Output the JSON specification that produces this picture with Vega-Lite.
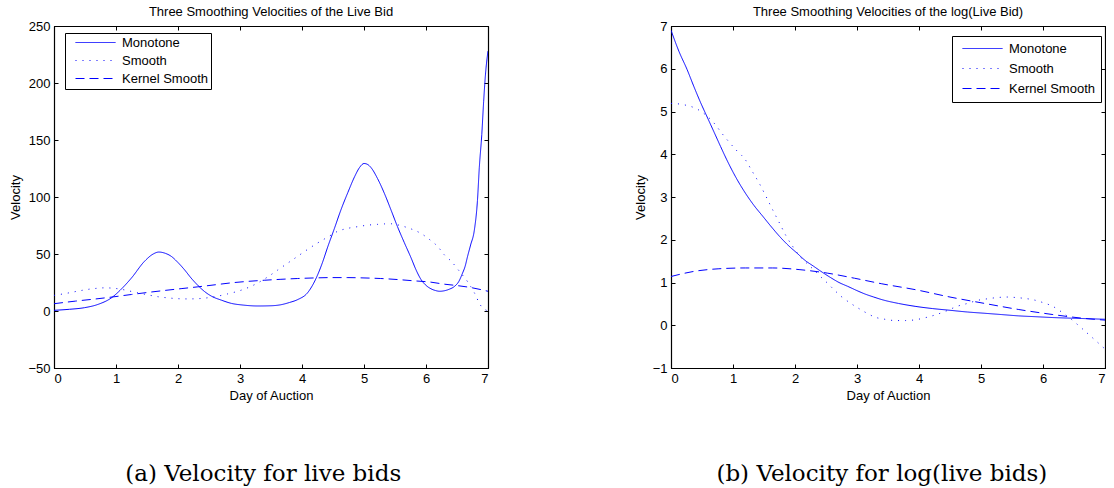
{
  "$schema": "https://vega.github.io/schema/vega-lite/v6.json",
  "background": "white",
  "padding": {"left": 9, "top": 5, "right": 0, "bottom": 0},
  "spacing": 144,
  "resolve": {"scale": {"strokeDash": "independent"}, "legend": {"strokeDash": "independent"}},
  "config": {
    "font": "Liberation Sans",
    "view": {"stroke": "black", "strokeWidth": 1},
    "axis": {
      "labelFont": "Liberation Sans", "labelFontSize": 13, "labelColor": "black",
      "titleFont": "Liberation Sans", "titleFontSize": 13, "titleFontWeight": "normal", "titleColor": "black",
      "domainColor": "black", "domainWidth": 1.2, "tickColor": "black", "tickSize": -4, "labelPadding": 8, "grid": false
    },
    "title": {"font": "Liberation Sans", "fontSize": 13, "fontWeight": "normal", "color": "black", "offset": 1},
    "legend": {"labelFont": "Liberation Sans", "labelFontSize": 13, "labelColor": "black"}
  },
  "hconcat": [
    {
      "title": {"text": "(a) Velocity for live bids", "orient": "bottom", "anchor": "middle", "font": "DejaVu Serif", "fontSize": 23, "fontWeight": "normal", "color": "black", "offset": 60, "dx": 14},
      "vconcat": [
        {
          "title": {"text": "Three Smoothing Velocities of the Live Bid", "anchor": "middle"},
          "width": 434, "height": 342,
          "data": {"values": [
            {"s":"Monotone","day":0,"v":0.6},{"s":"Monotone","day":0.25,"v":1.5},{"s":"Monotone","day":0.49,"v":2.9},{"s":"Monotone","day":0.71,"v":5.8},{"s":"Monotone","day":0.92,"v":11.3},{"s":"Monotone","day":1.1,"v":20},{"s":"Monotone","day":1.25,"v":29},{"s":"Monotone","day":1.46,"v":43.6},{"s":"Monotone","day":1.6,"v":50},{"s":"Monotone","day":1.69,"v":51.7},{"s":"Monotone","day":1.8,"v":50.5},{"s":"Monotone","day":1.89,"v":48},{"s":"Monotone","day":2.0,"v":42.5},{"s":"Monotone","day":2.1,"v":36.5},{"s":"Monotone","day":2.21,"v":29},{"s":"Monotone","day":2.32,"v":22.5},{"s":"Monotone","day":2.43,"v":17},{"s":"Monotone","day":2.54,"v":13},{"s":"Monotone","day":2.7,"v":9.5},{"s":"Monotone","day":2.86,"v":6.7},{"s":"Monotone","day":3.05,"v":5.2},{"s":"Monotone","day":3.29,"v":4.4},{"s":"Monotone","day":3.5,"v":4.6},{"s":"Monotone","day":3.66,"v":5.5},{"s":"Monotone","day":3.8,"v":7.5},{"s":"Monotone","day":3.93,"v":10},{"s":"Monotone","day":4.09,"v":16},{"s":"Monotone","day":4.23,"v":29},{"s":"Monotone","day":4.32,"v":41},{"s":"Monotone","day":4.42,"v":57},{"s":"Monotone","day":4.52,"v":72},{"s":"Monotone","day":4.63,"v":89},{"s":"Monotone","day":4.74,"v":104},{"s":"Monotone","day":4.85,"v":118},{"s":"Monotone","day":4.93,"v":126},{"s":"Monotone","day":5.0,"v":129.4},{"s":"Monotone","day":5.06,"v":128.5},{"s":"Monotone","day":5.11,"v":126},{"s":"Monotone","day":5.22,"v":116},{"s":"Monotone","day":5.33,"v":103},{"s":"Monotone","day":5.44,"v":88},{"s":"Monotone","day":5.54,"v":74},{"s":"Monotone","day":5.65,"v":60},{"s":"Monotone","day":5.76,"v":46.5},{"s":"Monotone","day":5.84,"v":36},{"s":"Monotone","day":5.92,"v":27.6},{"s":"Monotone","day":6.0,"v":22.5},{"s":"Monotone","day":6.08,"v":19.5},{"s":"Monotone","day":6.15,"v":18},{"s":"Monotone","day":6.22,"v":17.3},{"s":"Monotone","day":6.3,"v":17.8},{"s":"Monotone","day":6.38,"v":19.2},{"s":"Monotone","day":6.46,"v":21.6},{"s":"Monotone","day":6.53,"v":26},{"s":"Monotone","day":6.59,"v":33.3},{"s":"Monotone","day":6.63,"v":39},{"s":"Monotone","day":6.67,"v":47.8},{"s":"Monotone","day":6.72,"v":58},{"s":"Monotone","day":6.78,"v":71},{"s":"Monotone","day":6.83,"v":97},{"s":"Monotone","day":6.86,"v":126},{"s":"Monotone","day":6.9,"v":155},{"s":"Monotone","day":6.93,"v":184},{"s":"Monotone","day":6.96,"v":208},{"s":"Monotone","day":7.0,"v":228},
            {"s":"Smooth","day":0,"v":13.7},{"s":"Smooth","day":0.2,"v":15.5},{"s":"Smooth","day":0.44,"v":18},{"s":"Smooth","day":0.62,"v":19.5},{"s":"Smooth","day":0.82,"v":20.3},{"s":"Smooth","day":0.95,"v":20},{"s":"Smooth","day":1.09,"v":19},{"s":"Smooth","day":1.22,"v":17.5},{"s":"Smooth","day":1.35,"v":16},{"s":"Smooth","day":1.5,"v":14.3},{"s":"Smooth","day":1.68,"v":12.5},{"s":"Smooth","day":1.84,"v":11.5},{"s":"Smooth","day":2.0,"v":10.8},{"s":"Smooth","day":2.16,"v":10.6},{"s":"Smooth","day":2.32,"v":10.8},{"s":"Smooth","day":2.48,"v":11.6},{"s":"Smooth","day":2.64,"v":13},{"s":"Smooth","day":2.8,"v":15},{"s":"Smooth","day":2.97,"v":17.4},{"s":"Smooth","day":3.13,"v":20.5},{"s":"Smooth","day":3.29,"v":24.7},{"s":"Smooth","day":3.45,"v":30},{"s":"Smooth","day":3.61,"v":36},{"s":"Smooth","day":3.77,"v":42},{"s":"Smooth","day":3.93,"v":48},{"s":"Smooth","day":4.09,"v":54},{"s":"Smooth","day":4.25,"v":59.6},{"s":"Smooth","day":4.42,"v":65},{"s":"Smooth","day":4.58,"v":70},{"s":"Smooth","day":4.74,"v":72.5},{"s":"Smooth","day":4.9,"v":74},{"s":"Smooth","day":5.06,"v":75.3},{"s":"Smooth","day":5.22,"v":76},{"s":"Smooth","day":5.33,"v":76.4},{"s":"Smooth","day":5.44,"v":76.5},{"s":"Smooth","day":5.55,"v":75.5},{"s":"Smooth","day":5.65,"v":74},{"s":"Smooth","day":5.76,"v":72},{"s":"Smooth","day":5.92,"v":68},{"s":"Smooth","day":6.05,"v":63},{"s":"Smooth","day":6.19,"v":56.5},{"s":"Smooth","day":6.3,"v":49},{"s":"Smooth","day":6.4,"v":44},{"s":"Smooth","day":6.56,"v":33.4},{"s":"Smooth","day":6.68,"v":25},{"s":"Smooth","day":6.78,"v":16},{"s":"Smooth","day":6.88,"v":5},{"s":"Smooth","day":6.96,"v":1},{"s":"Smooth","day":7.0,"v":0},
            {"s":"Kernel Smooth","day":0,"v":6.4},{"s":"Kernel Smooth","day":0.35,"v":8.7},{"s":"Kernel Smooth","day":0.71,"v":10.8},{"s":"Kernel Smooth","day":1.0,"v":12.7},{"s":"Kernel Smooth","day":1.25,"v":14.5},{"s":"Kernel Smooth","day":1.5,"v":16.2},{"s":"Kernel Smooth","day":1.78,"v":18},{"s":"Kernel Smooth","day":2.05,"v":19.6},{"s":"Kernel Smooth","day":2.32,"v":21.2},{"s":"Kernel Smooth","day":2.6,"v":23},{"s":"Kernel Smooth","day":2.86,"v":24.7},{"s":"Kernel Smooth","day":3.13,"v":26},{"s":"Kernel Smooth","day":3.4,"v":27},{"s":"Kernel Smooth","day":3.66,"v":27.8},{"s":"Kernel Smooth","day":3.93,"v":28.5},{"s":"Kernel Smooth","day":4.2,"v":29},{"s":"Kernel Smooth","day":4.47,"v":29.3},{"s":"Kernel Smooth","day":4.74,"v":29.3},{"s":"Kernel Smooth","day":5.0,"v":29},{"s":"Kernel Smooth","day":5.27,"v":28.5},{"s":"Kernel Smooth","day":5.54,"v":27.6},{"s":"Kernel Smooth","day":5.8,"v":26.5},{"s":"Kernel Smooth","day":6.08,"v":25.3},{"s":"Kernel Smooth","day":6.3,"v":23.5},{"s":"Kernel Smooth","day":6.5,"v":22.3},{"s":"Kernel Smooth","day":6.73,"v":20.5},{"s":"Kernel Smooth","day":7.0,"v":17.3}
          ]},
          "layer": [
            {
              "mark": {"type": "line", "color": "#0000ff", "strokeWidth": 1, "clip": true, "interpolate": "monotone"},
              "encoding": {
                "x": {"field": "day", "type": "quantitative", "scale": {"domain": [0, 7], "nice": false, "zero": false}, "axis": {"orient": "bottom", "title": "Day of Auction", "values": [0,1,2,3,4,5,6,7], "titlePadding": 4}},
                "y": {"field": "v", "type": "quantitative", "scale": {"domain": [-50, 250], "nice": false, "zero": false}, "axis": {"orient": "left", "title": "Velocity", "values": [-50,0,50,100,150,200,250], "titlePadding": 5}},
                "strokeDash": {"field": "s", "type": "nominal", "scale": {"domain": ["Monotone", "Smooth", "Kernel Smooth"], "range": [[1, 0], [1, 6], [9, 5]]},
                  "legend": {"title": null, "orient": "none", "legendX": 11, "legendY": 7, "symbolType": "M0.25,0H10.25", "symbolSize": 64, "symbolStrokeColor": "#0000ff", "symbolStrokeWidth": 1, "labelOffset": 41, "fillColor": "white", "strokeColor": "black", "padding": 3, "rowPadding": 4}}
              }
            },
            {
              "mark": {"type": "line", "opacity": 0},
              "encoding": {
                "x": {"field": "day", "type": "quantitative", "scale": {"domain": [0, 7], "nice": false, "zero": false}, "axis": {"orient": "top", "title": null, "labels": false, "values": [0,1,2,3,4,5,6,7]}},
                "y": {"field": "v", "type": "quantitative", "scale": {"domain": [-50, 250], "nice": false, "zero": false}, "axis": {"orient": "right", "title": null, "labels": false, "values": [-50,0,50,100,150,200,250]}}
              }
            }
          ],
          "resolve": {"axis": {"x": "independent", "y": "independent"}}
        }
      ]
    },
    {
      "title": {"text": "(b) Velocity for log(live bids)", "orient": "bottom", "anchor": "middle", "font": "DejaVu Serif", "fontSize": 23, "fontWeight": "normal", "color": "black", "offset": 60, "dx": 12},
      "vconcat": [
        {
          "title": {"text": "Three Smoothing Velocities of the log(Live Bid)", "anchor": "middle"},
          "width": 434, "height": 342,
          "data": {"values": [
            {"s":"Monotone","day":0,"v":6.9},{"s":"Monotone","day":0.13,"v":6.4},{"s":"Monotone","day":0.26,"v":5.98},{"s":"Monotone","day":0.37,"v":5.58},{"s":"Monotone","day":0.48,"v":5.2},{"s":"Monotone","day":0.59,"v":4.85},{"s":"Monotone","day":0.7,"v":4.5},{"s":"Monotone","day":0.8,"v":4.18},{"s":"Monotone","day":0.9,"v":3.87},{"s":"Monotone","day":1.05,"v":3.45},{"s":"Monotone","day":1.2,"v":3.09},{"s":"Monotone","day":1.34,"v":2.8},{"s":"Monotone","day":1.48,"v":2.55},{"s":"Monotone","day":1.62,"v":2.3},{"s":"Monotone","day":1.75,"v":2.08},{"s":"Monotone","day":1.89,"v":1.87},{"s":"Monotone","day":2.03,"v":1.69},{"s":"Monotone","day":2.16,"v":1.52},{"s":"Monotone","day":2.3,"v":1.38},{"s":"Monotone","day":2.44,"v":1.24},{"s":"Monotone","day":2.58,"v":1.11},{"s":"Monotone","day":2.71,"v":1.0},{"s":"Monotone","day":2.85,"v":0.91},{"s":"Monotone","day":3.0,"v":0.81},{"s":"Monotone","day":3.13,"v":0.73},{"s":"Monotone","day":3.27,"v":0.66},{"s":"Monotone","day":3.4,"v":0.6},{"s":"Monotone","day":3.67,"v":0.51},{"s":"Monotone","day":3.95,"v":0.44},{"s":"Monotone","day":4.22,"v":0.39},{"s":"Monotone","day":4.5,"v":0.35},{"s":"Monotone","day":4.78,"v":0.31},{"s":"Monotone","day":5.06,"v":0.28},{"s":"Monotone","day":5.33,"v":0.25},{"s":"Monotone","day":5.6,"v":0.22},{"s":"Monotone","day":5.88,"v":0.2},{"s":"Monotone","day":6.16,"v":0.18},{"s":"Monotone","day":6.58,"v":0.16},{"s":"Monotone","day":7.0,"v":0.14},
            {"s":"Smooth","day":0,"v":5.19},{"s":"Smooth","day":0.2,"v":5.16},{"s":"Smooth","day":0.43,"v":5.05},{"s":"Smooth","day":0.65,"v":4.8},{"s":"Smooth","day":0.87,"v":4.4},{"s":"Smooth","day":1.05,"v":4.1},{"s":"Smooth","day":1.2,"v":3.87},{"s":"Smooth","day":1.31,"v":3.6},{"s":"Smooth","day":1.42,"v":3.33},{"s":"Smooth","day":1.53,"v":3.02},{"s":"Smooth","day":1.64,"v":2.7},{"s":"Smooth","day":1.75,"v":2.39},{"s":"Smooth","day":1.86,"v":2.08},{"s":"Smooth","day":1.97,"v":1.83},{"s":"Smooth","day":2.08,"v":1.61},{"s":"Smooth","day":2.19,"v":1.45},{"s":"Smooth","day":2.3,"v":1.3},{"s":"Smooth","day":2.41,"v":1.14},{"s":"Smooth","day":2.52,"v":0.99},{"s":"Smooth","day":2.63,"v":0.83},{"s":"Smooth","day":2.74,"v":0.68},{"s":"Smooth","day":2.88,"v":0.53},{"s":"Smooth","day":3.02,"v":0.4},{"s":"Smooth","day":3.15,"v":0.29},{"s":"Smooth","day":3.29,"v":0.19},{"s":"Smooth","day":3.45,"v":0.14},{"s":"Smooth","day":3.62,"v":0.11},{"s":"Smooth","day":3.78,"v":0.11},{"s":"Smooth","day":3.95,"v":0.13},{"s":"Smooth","day":4.11,"v":0.18},{"s":"Smooth","day":4.28,"v":0.25},{"s":"Smooth","day":4.45,"v":0.34},{"s":"Smooth","day":4.61,"v":0.44},{"s":"Smooth","day":4.78,"v":0.51},{"s":"Smooth","day":4.94,"v":0.58},{"s":"Smooth","day":5.11,"v":0.62},{"s":"Smooth","day":5.28,"v":0.65},{"s":"Smooth","day":5.42,"v":0.66},{"s":"Smooth","day":5.55,"v":0.65},{"s":"Smooth","day":5.69,"v":0.63},{"s":"Smooth","day":5.83,"v":0.6},{"s":"Smooth","day":6.0,"v":0.53},{"s":"Smooth","day":6.16,"v":0.44},{"s":"Smooth","day":6.3,"v":0.31},{"s":"Smooth","day":6.43,"v":0.17},{"s":"Smooth","day":6.57,"v":0.0},{"s":"Smooth","day":6.71,"v":-0.18},{"s":"Smooth","day":6.85,"v":-0.36},{"s":"Smooth","day":6.98,"v":-0.53},
            {"s":"Kernel Smooth","day":0,"v":1.14},{"s":"Kernel Smooth","day":0.37,"v":1.26},{"s":"Kernel Smooth","day":0.76,"v":1.32},{"s":"Kernel Smooth","day":1.2,"v":1.34},{"s":"Kernel Smooth","day":1.64,"v":1.34},{"s":"Kernel Smooth","day":2.08,"v":1.3},{"s":"Kernel Smooth","day":2.52,"v":1.22},{"s":"Kernel Smooth","day":2.96,"v":1.1},{"s":"Kernel Smooth","day":3.4,"v":0.97},{"s":"Kernel Smooth","day":3.95,"v":0.83},{"s":"Kernel Smooth","day":4.5,"v":0.66},{"s":"Kernel Smooth","day":5.06,"v":0.51},{"s":"Kernel Smooth","day":5.6,"v":0.37},{"s":"Kernel Smooth","day":6.16,"v":0.25},{"s":"Kernel Smooth","day":6.6,"v":0.17},{"s":"Kernel Smooth","day":7.0,"v":0.12}
          ]},
          "layer": [
            {
              "mark": {"type": "line", "color": "#0000ff", "strokeWidth": 1, "clip": true, "interpolate": "monotone"},
              "encoding": {
                "x": {"field": "day", "type": "quantitative", "scale": {"domain": [0, 7], "nice": false, "zero": false}, "axis": {"orient": "bottom", "title": "Day of Auction", "values": [0,1,2,3,4,5,6,7], "titlePadding": 4}},
                "y": {"field": "v", "type": "quantitative", "scale": {"domain": [-1, 7], "nice": false, "zero": false}, "axis": {"orient": "left", "title": "Velocity", "values": [-1,0,1,2,3,4,5,6,7], "titlePadding": 5}},
                "strokeDash": {"field": "s", "type": "nominal", "scale": {"domain": ["Monotone", "Smooth", "Kernel Smooth"], "range": [[1, 0], [1, 6], [9, 5]]},
                  "legend": {"title": null, "orient": "none", "legendX": 281, "legendY": 10, "symbolType": "M-0.5,0H9.5", "symbolSize": 64, "symbolStrokeColor": "#0000ff", "symbolStrokeWidth": 1, "labelOffset": 38, "fillColor": "white", "strokeColor": "black", "padding": 6, "rowPadding": 6}}
              }
            },
            {
              "mark": {"type": "line", "opacity": 0},
              "encoding": {
                "x": {"field": "day", "type": "quantitative", "scale": {"domain": [0, 7], "nice": false, "zero": false}, "axis": {"orient": "top", "title": null, "labels": false, "values": [0,1,2,3,4,5,6,7]}},
                "y": {"field": "v", "type": "quantitative", "scale": {"domain": [-1, 7], "nice": false, "zero": false}, "axis": {"orient": "right", "title": null, "labels": false, "values": [-1,0,1,2,3,4,5,6,7]}}
              }
            }
          ],
          "resolve": {"axis": {"x": "independent", "y": "independent"}}
        }
      ]
    }
  ]
}
